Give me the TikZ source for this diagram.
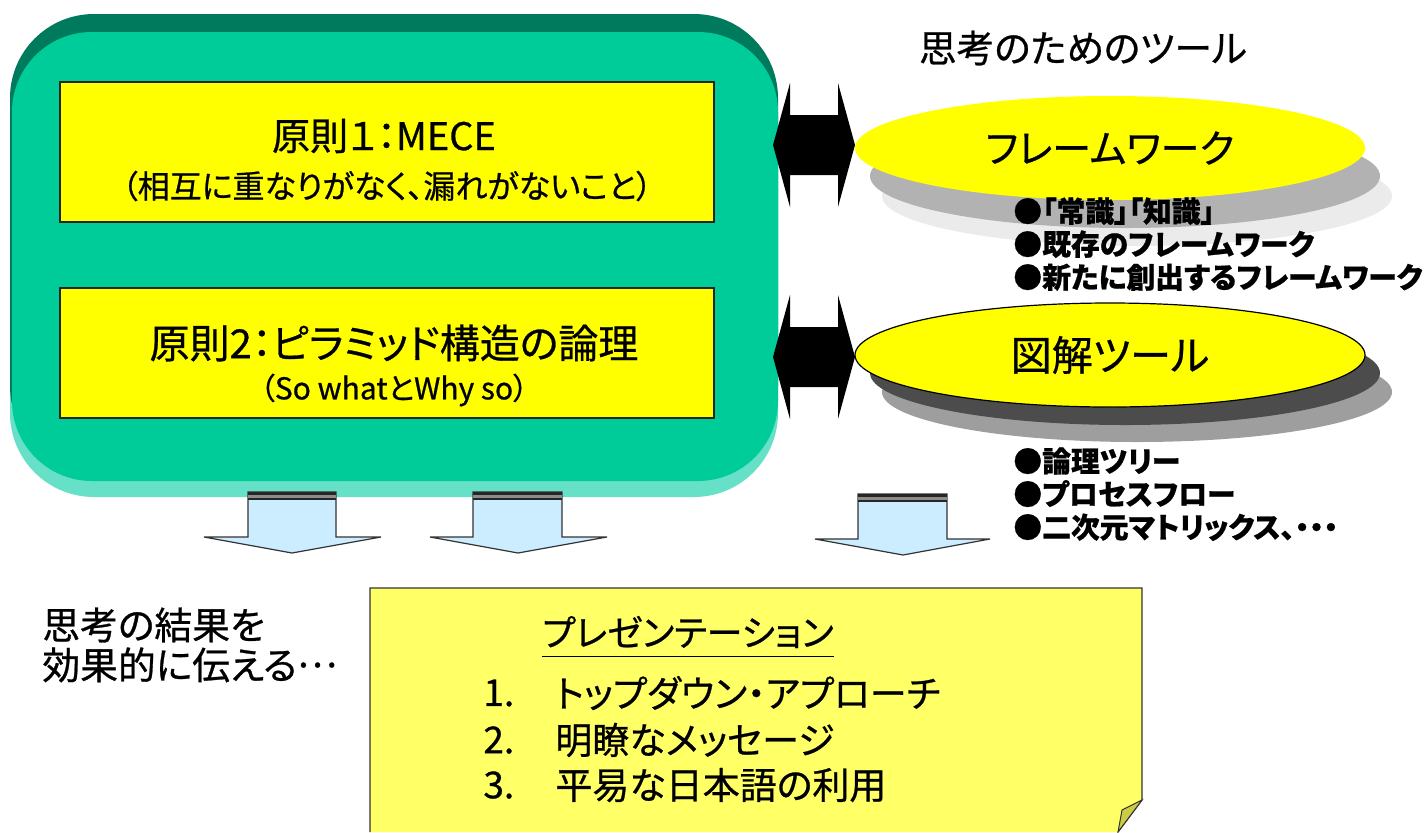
\documentclass[tikz,border=0pt]{standalone}
\usepackage{fontspec}
\setmainfont{Noto Sans CJK JP}[RawFeature=+palt, FakeBold=0.7]
\usetikzlibrary{shapes.geometric,calc}
\definecolor{gmain}{HTML}{00CC99}
\definecolor{gdark}{HTML}{007A5C}
\definecolor{glight}{HTML}{66E0C6}
\definecolor{ylw}{HTML}{FFFF00}
\definecolor{notey}{HTML}{FFFF66}
\definecolor{notefold}{HTML}{CCCC44}
\definecolor{ablue}{HTML}{CCECFF}
\tikzset{
  ybox/.style={draw=black!85, line width=0.6pt, fill=ylw, minimum width=327pt, minimum height=70pt, inner sep=0pt},
  oval/.style={ellipse, fill=ylw, minimum width=255pt, minimum height=52pt, inner sep=0pt},
  txt/.style={inner sep=0pt, text=black},
  dblarrow/.style={fill=black},
  downarrow/.style={fill=ablue, draw=black!80, line width=0.6pt, line join=miter},
}
\begin{document}
\begin{tikzpicture}[x=0.5pt,y=-0.5pt]
\useasboundingbox (0,0) rectangle (1425,832);
% green panel
\fill[glight, rounded corners=42pt] (10,30) rectangle (778,497);
\fill[gdark, rounded corners=42pt] (10,14) rectangle (778,470);
\fill[gmain, rounded corners=40pt] (12,32) rectangle (778,481);
% principle boxes
\node[ybox] (p1) at (387,152) {};
\node[txt, font=\fontsize{19}{22}\selectfont] (p1a) at (384,136) {原則１：MECE};
\node[txt, font=\fontsize{16}{18}\selectfont] (p1b) at (387,186) {（相互に重なりがなく、漏れがないこと）};
\node[ybox, minimum height=65pt] (p2) at (387,353) {};
\node[txt, font=\fontsize{20}{23}\selectfont] (p2a) at (394,343) {原則2：ピラミッド構造の論理};
\node[txt, font=\fontsize{15}{18}\selectfont] (p2b) at (394,390) {（So whatとWhy so）};
% title
\node[txt, font=\fontsize{18.8}{20}\selectfont] (tools) at (1083,48) {思考のためのツール};
% ellipse 1 shadows + ellipse
\fill[black!8] (1137,196) ellipse [x radius=255, y radius=50];
\fill[black!30] (1125,176) ellipse [x radius=255, y radius=52];
\node[oval] (fw) at (1110,148) {};
\node[txt, font=\fontsize{19.5}{23}\selectfont] at (fw) {フレームワーク};
% ellipse 2
\fill[black!38] (1137,392) ellipse [x radius=255, y radius=50];
\fill[black!70] (1125,373) ellipse [x radius=255, y radius=52];
\node[oval, draw=black, line width=0.6pt] (zk) at (1110,355) {};
\node[txt, font=\fontsize{20.5}{24}\selectfont] at (zk) {図解ツール};
% double arrows
\coordinate (a1) at (773,145);
\coordinate (a2) at (773,357);
\foreach \c in {a1,a2}{
  \fill[dblarrow] (\c) -- ++(17,-62) -- ++(0,32) -- ++(48,0) -- ++(0,-32) -- ++(17,62)
     -- ++(-17,62) -- ++(0,-32) -- ++(-48,0) -- ++(0,32) -- cycle;
}
% bullet lists
\node[txt, anchor=north west, align=left, font=\bfseries\fontsize{14.4}{16.5}\selectfont] (b1) at (1013,197)
  {●「常識」「知識」\\●既存のフレームワーク\\●新たに創出するフレームワーク};
\node[txt, anchor=north west, align=left, font=\bfseries\fontsize{14.4}{16.5}\selectfont] (b2) at (1013,447)
  {●論理ツリー\\●プロセスフロー\\●二次元マトリックス、・・・};
% down arrows
\foreach \sl/\sr/\hl/\hr/\c/\t in {248/336/204/381/292/492, 473/562/430/607/518/492, 858/947/815/990/903/494}{
  \draw[downarrow] (\sl,\t) -- (\sr,\t) -- (\sr,\t+45) -- (\hr,\t+45) -- (\c,\t+61) -- (\hl,\t+45) -- (\sl,\t+45) -- cycle;
  \fill[black!85] (\sl,\t) rectangle (\sr,\t+3);
  \fill[black!45] (\sl,\t+3) rectangle (\sr,\t+5.5);
  \fill[black!85] (\sl,\t+5.5) rectangle (\sr,\t+8);
}
% left text
\node[txt, anchor=west, align=left, font=\fontsize{18.9}{20}\selectfont] (res) at (42,645) {思考の結果を\\効果的に伝える\raisebox{0.32em}{…}};
% note
\fill[notey] (370,588) -- (1142,588) -- (1142,800) -- (1118,832) -- (370,832) -- cycle;
\draw[black!80, line width=0.6pt] (370,832) -- (370,588) -- (1142,588) -- (1142,800) -- (1118,832);
\filldraw[fill=notefold, draw=black!80, line width=0.5pt] (1142,800) -- (1122,810) -- (1118,832) -- cycle;
\node[txt, font=\fontsize{18}{20}\selectfont] (pt) at (688,632) {プレゼンテーション};
\draw[black, line width=0.7pt] ($(pt.south west)+(0,8)$) -- ($(pt.south east)+(0,8)$);
\foreach \n/\y/\s in {1/693/トップダウン・アプローチ, 2/740/明瞭なメッセージ, 3/785/平易な日本語の利用}{
  \node[txt, anchor=west, font=\fontsize{18.5}{22}\selectfont] (n\n) at (483,\y) {\n.};
  \node[txt, anchor=west, font=\fontsize{18.5}{22}\selectfont] (l\n) at (555,\y) {\s};
}
\end{tikzpicture}
\end{document}
